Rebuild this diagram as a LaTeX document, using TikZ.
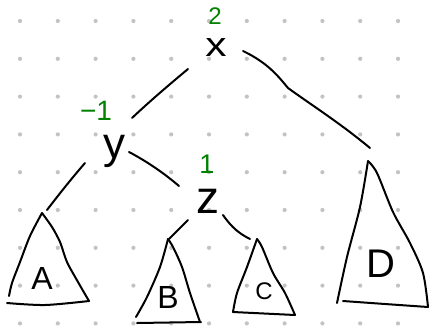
\documentclass[tikz,border=0pt]{standalone}
\usepackage{fontspec}
\setmainfont{Liberation Sans}
\definecolor{penGreen}{RGB}{0,130,0}
\definecolor{dotGray}{RGB}{195,195,195}
\tikzset{
  pen/.style={line width=2pt, line cap=round, line join=round, black},
  lbl/.style={inner sep=0pt, font=\fontsize{#1}{#1}\selectfont},
  num/.style={inner sep=0pt, text=penGreen, font=\fontsize{#1}{#1}\selectfont},
}
\begin{document}
\begin{tikzpicture}[x=1pt,y=-1pt]
\fill[white] (0,0) rectangle (430,327);
\useasboundingbox (0,0) rectangle (430,327);
% dot grid
\foreach \i in {0,...,10}{
  \foreach \j in {0,...,8}{
    \fill[dotGray] ({20+37.8*\i},{21+37.8*\j}) circle (2.1);
  }
}
% labels
\node[num=24] (n2) at (215,16) {2};
\node[lbl=34,xscale=1.25] (x) at (216,48) {x};
\node[num=28] (nm1) at (96,111) {−1};
\node[lbl=44] (y) at (114,151) {y};
\node[num=27] (n1) at (207,164) {1};
\node[lbl=46] (z) at (208,201) {z};
\node[lbl=32] (A) at (42,278) {A};
\node[lbl=32] (B) at (168,297) {B};
\node[lbl=24] (C) at (264,291) {C};
\node[lbl=40] (D) at (381,264) {D};
% connector ends
\coordinate (xy1) at (188,69);   \coordinate (xy2) at (132,118);
\coordinate (xD1) at (243,51);   \coordinate (xD2) at (370,148);
\coordinate (yA1) at (85,163);   \coordinate (yA2) at (47,210);
\coordinate (yz1) at (129,152);  \coordinate (yz2) at (179,186);
\coordinate (zB1) at (188,220);  \coordinate (zB2) at (169,239);
\coordinate (zC1) at (223,215);  \coordinate (zC2) at (250,239);
% connectors
\draw[pen] (xy1) .. controls (170,84) and (150,101) .. (xy2);
\draw[pen] (xD1) .. controls (268,63) and (278,76) .. (288,88)
            .. controls (310,104) and (340,123) .. (xD2);
\draw[pen] (yA1) .. controls (72,178) and (60,193) .. (yA2);
\draw[pen] (yz1) .. controls (148,162) and (165,174) .. (yz2);
\draw[pen] (zB1) -- (zB2);
\draw[pen] (zC1) .. controls (232,228) and (240,234) .. (zC2);
% triangle A
\coordinate (Aapex) at (42,213);
\draw[pen] plot[smooth] coordinates {(Aapex) (30,236) (20,262) (12,283) (9,296)};
\draw[pen] plot[smooth] coordinates {(Aapex) (52,227) (60,242) (67,262) (78,282) (89,301)};
\draw[pen] plot[smooth] coordinates {(7,303) (45,305) (89,301)};
% triangle B
\coordinate (Bapex) at (168,239);
\draw[pen] plot[smooth] coordinates {(Bapex) (160,267) (147,297) (136,317)};
\draw[pen] plot[smooth] coordinates {(Bapex) (173,247) (182,267) (190,293) (200,322)};
\draw[pen] (137,323) -- (201,322);
% triangle C
\coordinate (Capex) at (257,239);
\draw[pen] plot[smooth] coordinates {(Capex) (247,267) (237,293) (233,312)};
\draw[pen] plot[smooth] coordinates {(Capex) (262,247) (273,273) (285,293) (295,315)};
\draw[pen] (233,312) -- (295,315);
% triangle D
\coordinate (Dapex) at (368,161);
\draw[pen] plot[smooth] coordinates {(Dapex) (360,207) (347,257) (337,303)};
\draw[pen] plot[smooth] coordinates {(Dapex) (377,173) (393,212) (410,243) (423,273) (428,307)};
\draw[pen] plot[smooth] coordinates {(343,301) (385,304) (428,307)};
\end{tikzpicture}
\end{document}
